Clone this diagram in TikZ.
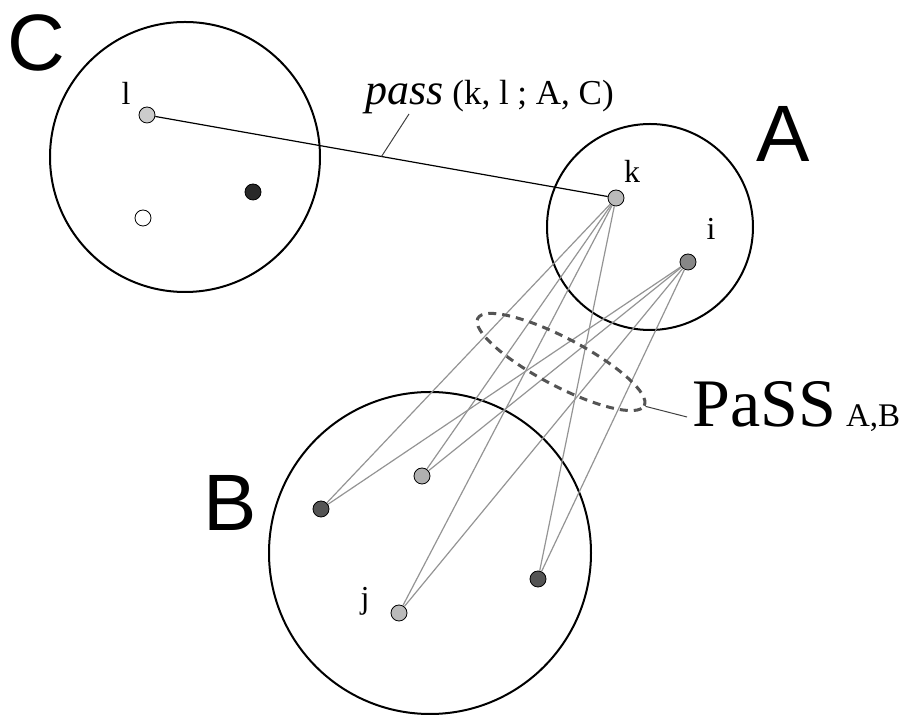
\documentclass[tikz,border=0pt]{standalone}
\usepackage{fontspec}
\setmainfont{Liberation Serif}
\newfontfamily\setsans{Liberation Sans}
\usepackage{tikz}
\usetikzlibrary{shapes.geometric}
\definecolor{ptlight}{gray}{0.80}
\definecolor{ptmid}{gray}{0.73}
\definecolor{ptgray}{gray}{0.53}
\definecolor{ptdark}{gray}{0.33}
\definecolor{ptblack}{gray}{0.16}
\definecolor{linkgray}{gray}{0.58}
\definecolor{hullgray}{gray}{0.33}
\tikzset{
	pt/.style={circle, draw=black, line width=0.4pt, inner sep=0pt, minimum size=8pt},
	setlbl/.style={font=\setsans\fontsize{40}{40}\selectfont, inner sep=0pt},
	ptlbl/.style={font=\fontsize{16}{16}\selectfont, inner sep=0pt},
	link/.style={draw=linkgray, line width=0.6pt},
	pointer/.style={draw=black!75, line width=0.5pt},
	setring/.style={draw=black, line width=1pt}
}

\begin{document}
\begin{tikzpicture}[x=0.5pt, y=-0.5pt]
			\useasboundingbox (0,0) rectangle (906,715);
			
			\draw[setring] (185,157) circle (135);
			\draw[setring] (650,227) circle (103);
			\draw[setring] (430,553) circle (161);
			
			\node[setlbl] (lblC) at (36,43) {C};
			\node[setlbl] (lblA) at (783,134) {A};
			\node[setlbl] (lblB) at (230,503) {B};
			
			\node[pt, fill=ptlight] (l) at (147,115) {};
			\node[pt, fill=ptblack] (cdark) at (253,192) {};
			\node[pt, fill=white] (cwhite) at (143,218) {};
			\node[pt, fill=ptmid] (k) at (616,198) {};
			\node[pt, fill=ptgray] (i) at (688,262) {};
			\node[pt, fill=ptdark] (bl) at (321,509) {};
			\node[pt, fill=ptmid!80!ptgray] (bm) at (422,476) {};
			\node[pt, fill=ptdark] (br) at (538,579) {};
			\node[pt, fill=ptmid] (j) at (399,613) {};
			
			\node[ptlbl] (lbll) at (126,93) {l};
			\node[ptlbl] (lblk) at (632,171) {k};
			\node[ptlbl] (lbli) at (711,229) {i};
			\node[ptlbl] (lblj) at (365,601) {j};
			
			\foreach \b in {bl, bm, j, br} {
				\draw[link] (k) -- (\b);
				\draw[link] (i) -- (\b);
			}
			
			\draw[line width=0.6pt] (l) -- (k) coordinate[pos=0.5] (passfoot);
			\node[anchor=base west, inner sep=0pt] (passlbl) at (365,105)
				{\fontsize{22}{22}\selectfont\itshape pass\fontsize{17.5}{17.5}\selectfont\upshape\ (k, l ; A, C)};
			\coordinate (passhead) at (409,114);
			\draw[pointer] (passhead) -- (passfoot);
			
			\node[ellipse, draw=hullgray, line width=1.5pt, dash pattern=on 4pt off 3pt,
				inner sep=0pt, minimum width=94pt, minimum height=24pt, rotate=-27.7] (hull) at (561,362) {};
			\node[anchor=base west, inner sep=0pt] (psslbl) at (692,427)
				{\fontsize{34}{34}\selectfont PaSS\hspace{5pt}\fontsize{16.5}{16.5}\selectfont A,B};
			\coordinate (psshead) at (687,417);
			\draw[pointer] (hull.east) -- (psshead);
			
		\end{tikzpicture}
\end{document}
